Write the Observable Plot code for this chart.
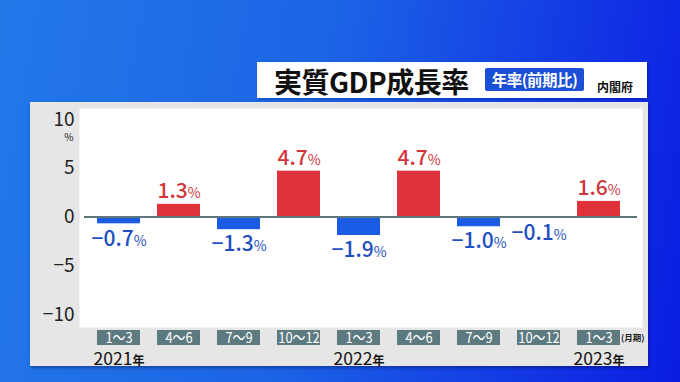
<!DOCTYPE html>
<html>
<head>
<meta charset="utf-8">
<script src="https://cdn.jsdelivr.net/npm/d3@7"></script>
<script src="https://cdn.jsdelivr.net/npm/@observablehq/plot@0.6"></script>
<style>
  html, body { margin: 0; padding: 0; }
  body { font-family: "Noto Sans CJK JP", "Noto Sans", sans-serif; }
  #wrap { position: relative; width: 680px; height: 382px; overflow: hidden;
    background: linear-gradient(100deg, #2378e8 0%, #1c64e6 45%, #1236e4 80%, #0a1ce2 100%); }
  #panel { position: absolute; left: 30px; top: 102px; width: 618px; height: 264px;
    background: #e6e6e6; box-shadow: 1px 2px 3px rgba(0,0,40,0.35); }
  #titlebox { position: absolute; left: 257px; top: 62px; width: 390px; height: 36px;
    background: #fff; box-shadow: 1px 1px 2px rgba(0,0,40,0.3); }
  #title { position: absolute; left: 17px; top: 0px; line-height: 38px; font-size: 28px;
    font-weight: 700; color: #111; letter-spacing: -0.5px; white-space: nowrap; }
  #badge { position: absolute; left: 228px; top: 6px; width: 99px; height: 23px;
    background: #1a4fd6; color: #fff; font-size: 15.5px; font-weight: 700; line-height: 23px;
    text-align: center; border-radius: 2px; letter-spacing: -0.5px; white-space: nowrap; }
  #source { position: absolute; left: 340px; top: 17px; font-size: 12px; font-weight: 700;
    color: #111; line-height: 16px; white-space: nowrap; }
  #chart { position: absolute; left: 0; top: 0; }
</style>
</head>
<body>
<div id="wrap">
  <div id="panel"></div>
  <div id="titlebox">
    <div id="title"></div>
    <div id="badge"></div>
    <div id="source"></div>
  </div>
  <div id="chart"></div>
</div>
<script>
// ---- data ----
const titleText = "実質GDP成長率";
const badgeText = "年率(前期比)";
const sourceText = "内閣府";
const quarters = ["1～3", "4～6", "7～9", "10～12", "1～3", "4～6", "7～9", "10～12", "1～3"];
const years = ["2021年", "", "", "", "2022年", "", "", "", "2023年"];
const values = [-0.7, 1.3, -1.3, 4.7, -1.9, 4.7, -1.0, -0.1, 1.6];
const yTicks = [-10, -5, 0, 5, 10];
const yUnit = "%";
const periodUnit = "(月期)";

document.getElementById("title").textContent = titleText;
document.getElementById("badge").textContent = badgeText;
document.getElementById("source").textContent = sourceText;

const RED = "#e0323a", BLUE = "#1b5ce6";
const RED_T = "#d2363c", BLUE_T = "#1f4fc2";
const data = values.map((v, i) => ({i, v, q: quarters[i], yr: years[i]}));
const fmt = v => (v < 0 ? "\u2212" : "") + Math.abs(v).toFixed(1) + "%";
const last = data.length - 1;

const chart = Plot.plot({
  width: 680, height: 382,
  marginLeft: 79, marginRight: 38, marginTop: 108, marginBottom: 55,
  style: {background: "transparent", fontFamily: "'Noto Sans CJK JP', sans-serif", overflow: "visible"},
  x: {type: "band", domain: d3.range(data.length), range: [93, 624], paddingInner: 0.287, paddingOuter: 0, axis: null},
  y: {domain: [d3.min(yTicks), d3.max(yTicks)], range: [314, 119], axis: null},
  color: {type: "identity"},
  marks: [
    Plot.frame({fill: "white", stroke: "none"}),
    Plot.axisY({ticks: yTicks, tickSize: 0, tickPadding: 5, fontSize: 19, fill: "#222", label: null,
      tickFormat: d => (d < 0 ? "\u2212" : "") + Math.abs(d)}),
    Plot.text([yUnit], {y: [d3.max(yTicks)], frameAnchor: "left", dx: -6, dy: 18,
      textAnchor: "end", fontSize: 10, fill: "#222", text: d => d}),
    Plot.barY(data, {x: "i", y: "v", fill: d => d.v >= 0 ? RED : BLUE}),
    Plot.ruleY([0], {stroke: "#5f767c", strokeWidth: 2, insetLeft: 5, insetRight: 5}),
    Plot.text(data.filter(d => d.v >= 0), {x: "i", y: "v", text: d => fmt(d.v), dy: -13,
      lineAnchor: "middle", fontSize: 21, fill: RED_T, ariaDescription: "value"}),
    Plot.text(data.filter(d => d.v < 0), {x: "i", y: "v", text: d => fmt(d.v), dy: 15,
      lineAnchor: "middle", fontSize: 21, fill: BLUE_T, ariaDescription: "value"}),
    Plot.text(data, {x: "i", text: "q", frameAnchor: "bottom", dy: 11, lineAnchor: "middle",
      fontSize: 15, fill: "white", ariaDescription: "quarter"}),
    Plot.text(data.filter(d => d.yr), {x: "i", text: "yr", frameAnchor: "bottom", dy: 32,
      lineAnchor: "middle", fontSize: 17.5, fill: "#111", ariaDescription: "year"}),
    Plot.text([periodUnit], {x: [last], text: d => d, frameAnchor: "bottom", dy: 11,
      lineAnchor: "middle", textAnchor: "start", dx: 22, fontSize: 8.5, fontWeight: 700, fill: "#222"})
  ]
});
document.getElementById("chart").appendChild(chart);

// split trailing unit (% / 年) into smaller tspans
const svg = d3.select(chart);
svg.selectAll('g[aria-description="value"] text').each(function() {
  const t = d3.select(this); const s = t.text();
  t.text(null);
  t.append("tspan").attr("font-weight", 500).text(s.slice(0, -1));
  t.append("tspan").attr("font-size", 14).text(s.slice(-1));
});
svg.selectAll('g[aria-description="year"] text').each(function() {
  const t = d3.select(this); const s = t.text();
  t.text(null);
  t.append("tspan").text(s.slice(0, -1));
  t.append("tspan").attr("font-size", 12).attr("font-weight", 700).text(s.slice(-1));
});
// condense the quarter labels horizontally
svg.selectAll('g[aria-description="quarter"] text').each(function() {
  const tr = this.getAttribute("transform") || "";
  this.setAttribute("transform", tr + " scale(0.86,1)");
});
// boxes behind quarter labels, placed with the plot's own x scale
const xs = chart.scale("x");
const qNode = chart.querySelector('g[aria-description="quarter"]');
const boxG = d3.create("svg:g");
boxG.selectAll("rect").data(data).join("rect")
  .attr("x", d => xs.apply(d.i)).attr("width", xs.bandwidth)
  .attr("y", 330).attr("height", 15).attr("fill", "#5e7a81");
qNode.parentNode.insertBefore(boxG.node(), qNode);
</script>
</body>
</html>
